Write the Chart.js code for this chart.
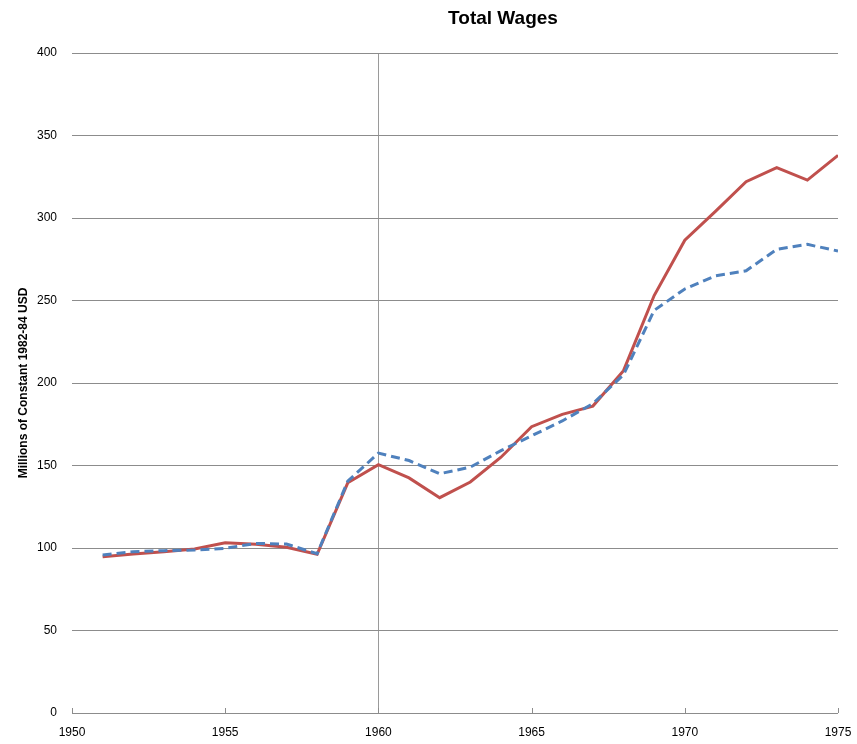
<!DOCTYPE html>
<html>
<head>
<meta charset="utf-8">
<script src="https://cdn.jsdelivr.net/npm/chart.js@4"></script>
<style>
  html, body { margin: 0; padding: 0; background: #fff; }
  #wrap { width: 857px; height: 744px; }
</style>
</head>
<body>
<div id="wrap"><canvas id="wages"></canvas></div>
<script>
// datos
const years = [1951, 1952, 1953, 1954, 1955, 1956, 1957, 1958, 1959, 1960,
  1961, 1962, 1963, 1964, 1965, 1966, 1967, 1968, 1969, 1970,
  1971, 1972, 1973, 1974, 1975];
const wagesSolid = [94.7, 96.4, 97.8, 99.4, 103.2, 102.2, 100.4, 96.2, 139.5, 150.5,
  142.5, 130.5, 140, 155, 173.5, 181, 186, 207.5, 253, 286.5,
  304, 322, 330.5, 323, 338];
const wagesDashed = [95.8, 97.8, 98.4, 98.8, 99.8, 102.8, 102.4, 96.5, 140.5, 157.5,
  153, 145, 149, 159, 168, 177, 187.5, 205, 244, 257,
  265, 268, 281, 284, 280];
const xTicks = [1950, 1955, 1960, 1965, 1970, 1975];
const yTicks = [0, 50, 100, 150, 200, 250, 300, 350, 400];

const FONT = "'Liberation Sans', sans-serif";

// ===============================
// Titulo y marcas del eje X
// ===============================
const extras = {
  id: 'extras',
  afterDraw(chart) {
    const c = chart.ctx;
    const x = chart.scales.x;
    const y0 = chart.scales.y.getPixelForValue(0);
    c.save();
    c.strokeStyle = '#8c8c8c';
    c.lineWidth = 1;
    xTicks.forEach(v => {
      const px = Math.round(x.getPixelForValue(v)) + 0.5;
      c.beginPath();
      c.moveTo(px, y0);
      c.lineTo(px, y0 - 5);
      c.stroke();
    });
    c.fillStyle = '#000';
    c.font = "bold 19px " + FONT;
    c.textAlign = 'center';
    c.textBaseline = 'middle';
    c.fillText('Total Wages', 503, 19);
    c.restore();
  }
};

const toPoints = arr => arr.map((v, i) => ({ x: years[i], y: v }));

new Chart(document.getElementById('wages'), {
  type: 'line',
  data: {
    datasets: [
      {
        label: 'Dashed',
        data: toPoints(wagesDashed),
        borderColor: '#4F81BD',
        borderWidth: 3,
        borderDash: [9, 5],
        pointRadius: 0,
        fill: false,
        tension: 0
      },
      {
        label: 'Solid',
        data: toPoints(wagesSolid),
        borderColor: '#C0504D',
        borderWidth: 3,
        pointRadius: 0,
        fill: false,
        tension: 0
      }
    ]
  },
  options: {
    responsive: true,
    maintainAspectRatio: false,
    animation: false,
    layout: { padding: { top: 53, right: 19, left: 16, bottom: 0 } },
    plugins: {
      legend: { display: false },
      tooltip: { enabled: false }
    },
    scales: {
      x: {
        type: 'linear',
        min: 1950,
        max: 1975,
        afterBuildTicks: s => { s.ticks = xTicks.map(v => ({ value: v })); },
        // alto fijo del eje y sin margen extra por las etiquetas extremas
        afterFit: s => { s.height = 31; s.paddingLeft = 0; s.paddingRight = 0; },
        ticks: {
          color: '#000',
          font: { family: FONT, size: 12 },
          padding: 12,
          callback: v => String(v)
        },
        grid: {
          color: ctx => (ctx.tick && ctx.tick.value === 1960) ? '#9a9a9a' : 'rgba(0,0,0,0)',
          lineWidth: 1,
          drawTicks: false
        },
        border: { display: false }
      },
      y: {
        min: 0,
        max: 400,
        afterBuildTicks: s => { s.ticks = yTicks.map(v => ({ value: v })); },
        afterFit: s => { s.width = 56; },
        title: {
          display: true,
          text: 'Millions of Constant 1982-84 USD',
          color: '#000',
          font: { family: FONT, size: 12, weight: 'bold' },
          padding: { top: 0, bottom: 6 }
        },
        ticks: {
          color: '#000',
          font: { family: FONT, size: 12 },
          padding: 15
        },
        grid: {
          color: '#8c8c8c',
          lineWidth: 1,
          drawTicks: false
        },
        border: { display: false }
      }
    }
  },
  plugins: [extras]
});
</script>
</body>
</html>
